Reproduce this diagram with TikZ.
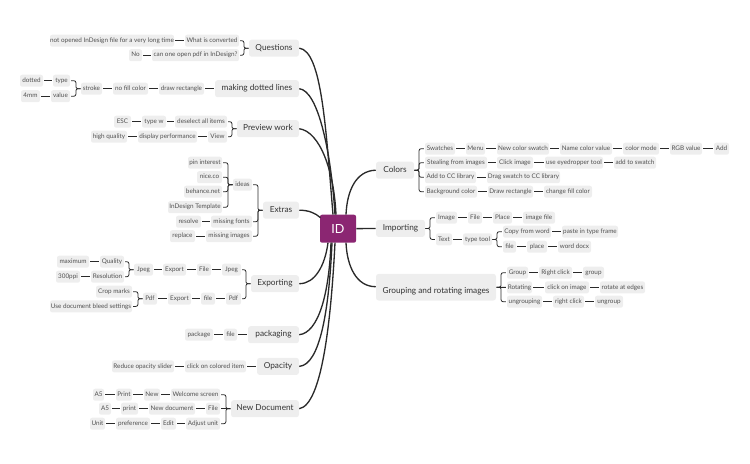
\documentclass[tikz,border=0pt]{standalone}
\usepackage{fontspec}
\setmainfont{Lato}
\definecolor{boxfill}{HTML}{EEEEEE}
\definecolor{lnk}{HTML}{2A2A2A}
\definecolor{txt}{HTML}{505050}
\definecolor{toptxt}{HTML}{333333}
\definecolor{idfill}{HTML}{8B2672}
\tikzset{
 bx/.style={fill=boxfill,rounded corners=1.6pt,inner sep=0pt,text=txt,font=\fontsize{4.75}{6}\selectfont,anchor=center,text height=3.4pt,text depth=1pt},
 tp/.style={fill=boxfill,rounded corners=2pt,inner sep=0pt,text=toptxt,font=\fontsize{6.2}{8}\selectfont,anchor=center,text height=4.6pt,text depth=1.4pt},
 lk/.style={draw=lnk,line width=0.6pt,shorten >=0.6pt,shorten <=0.6pt},
 br/.style={draw=lnk,line width=0.6pt,rounded corners=1.5pt,shorten <=0.6pt},
 mn/.style={draw=lnk,line width=1pt},
}
% name, x1, x2, yc, text
\newcommand{\bxn}[5]{\node[bx,minimum width={(#3-#2)*0.75pt},minimum height=9pt] (#1) at ({(#2+#3)/2},#4) {#5};}
\newcommand{\tpn}[5]{\node[tp,minimum width={(#3-#2)*0.75pt},minimum height=12.8pt] (#1) at ({(#2+#3)/2},#4) {#5};}
% left-hand bracket child -> parent
\newcommand{\bl}[2]{\draw[br] (#1.east) -| ([xshift=-3.6pt]#2.west) -- (#2.west);}
\newcommand{\brr}[2]{\draw[br] (#1.west) -| ([xshift=3.6pt]#2.east) -- (#2.east);}
\begin{document}
\begin{tikzpicture}[x=0.75pt,y=-0.75pt]
\useasboundingbox (0,-0.7) rectangle (750,463.3);
% main curves
\tpn{q}{249}{299}{47.5}{Questions}
\tpn{mdl}{215}{299}{88}{making dotted lines}
\tpn{pw}{237}{299}{128}{Preview work}
\tpn{ex}{263}{299}{209.5}{Extras}
\tpn{xp}{251}{299}{283}{Exporting}
\tpn{pk}{248}{299}{334}{packaging}
\tpn{op}{257}{299}{365.7}{Opacity}
\tpn{nd}{231}{299}{408}{New Document}
\tpn{co}{376}{414}{169.5}{Colors}
\tpn{im}{376}{425}{227.7}{Importing}
\node[tp,minimum width=90pt,minimum height=20pt] (gr) at (436,286.5) {\raisebox{-3.2pt}{Grouping and rotating images}};
\node[fill=idfill,rounded corners=1.5pt,minimum width=27pt,minimum height=21pt,inner sep=0pt,text=white,font=\fontsize{9.4}{11}\selectfont] (id) at (338,228) {ID};
\coordinate (qe) at (333,214); \coordinate (me) at (335,214); \coordinate (pe) at (336,214);
\coordinate (ee) at (320.5,217);
\coordinate (xe) at (328,242); \coordinate (ke) at (331,242); \coordinate (oe) at (332,242); \coordinate (ne) at (335,242);
\coordinate (ce) at (346,214); \coordinate (ge) at (346,242);
\draw[mn] (q.east) .. controls (322,50) and (326,130) .. (qe);
\draw[mn] (mdl.east) .. controls (318,90) and (331,150) .. (me);
\draw[mn] (pw.east) .. controls (320,131) and (334,170) .. (pe);
\draw[mn] (ex.east) .. controls (308,209.5) and (315,212) .. (ee);
\draw[mn] (xp.east) .. controls (315,283) and (325,265) .. (xe);
\draw[mn] (pk.east) .. controls (318,332) and (329,295) .. (ke);
\draw[mn] (op.east) .. controls (320,364) and (329,310) .. (oe);
\draw[mn] (nd.east) .. controls (322,404) and (331,320) .. (ne);
\draw[mn] (co.west) .. controls (356,170) and (347,190) .. (ce);
\draw[mn] (gr.west |- 0,286) .. controls (356,286) and (347,265) .. (ge);
\draw[mn] (id) -- (im);
% Questions
\bxn{a1}{50}{174}{40}{not opened InDesign file for a very long time}
\bxn{a2}{185}{239}{40}{What is converted}
\bxn{a3}{129}{142}{54.5}{No}
\bxn{a4}{152}{239}{54.5}{can one open pdf in InDesign?}
\draw[lk] (a1)--(a2); \draw[lk] (a3)--(a4); \bl{a2}{q} \bl{a4}{q}
% dotted
\bxn{b1}{159}{204}{88}{draw rectangle}
\bxn{b2}{113}{148}{88}{no fill color}
\bxn{b3}{81}{102}{88}{stroke}
\bxn{b4}{53}{70}{80}{type}
\bxn{b5}{20}{43}{80}{dotted}
\bxn{b6}{51}{70}{95.5}{value}
\bxn{b7}{21}{40}{95.5}{4mm}
\draw[lk] (b1)--(mdl); \draw[lk] (b2)--(b1); \draw[lk] (b3)--(b2); \draw[lk] (b5)--(b4); \draw[lk] (b7)--(b6); \bl{b4}{b3} \bl{b6}{b3}
% preview
\bxn{c1}{175}{227}{121}{deselect all items}
\bxn{c2}{142}{166}{121}{type w}
\bxn{c3}{114}{131}{121}{ESC}
\bxn{c4}{208}{227}{136}{View}
\bxn{c5}{138}{197}{136}{display performance}
\bxn{c6}{91}{127}{136}{high quality}
\draw[lk] (c3)--(c2); \draw[lk] (c2)--(c1); \draw[lk] (c6)--(c5); \draw[lk] (c5)--(c4); \bl{c1}{pw} \bl{c4}{pw}
% extras
\bxn{d1}{188}{222}{162}{pin interest}
\bxn{d2}{197}{222}{176.5}{nice.co}
\bxn{d3}{184}{222}{191}{behance.net}
\bxn{d4}{168}{222}{206.5}{InDesign Template}
\bxn{d5}{233}{252}{184}{ideas}
\bxn{d6}{211}{252}{221}{missing fonts}
\bxn{d7}{176}{201}{221}{resolve}
\bxn{d8}{206}{252}{235.5}{missing images}
\bxn{d9}{170}{195}{235.5}{replace}
\bl{d1}{d5} \bl{d2}{d5} \bl{d3}{d5} \bl{d4}{d5}
\bl{d5}{ex} \bl{d6}{ex} \bl{d8}{ex}
\draw[lk] (d7)--(d6); \draw[lk] (d9)--(d8);
% exporting
\bxn{e1}{222}{241}{269}{Jpeg}
\bxn{e2}{197}{211}{269}{File}
\bxn{e3}{163}{186}{269}{Export}
\bxn{e4}{134}{153}{269}{Jpeg}
\bxn{e5}{100}{124}{261}{Quality}
\bxn{e6}{57}{89}{261}{maximum}
\bxn{e7}{91}{124}{276}{Resolution}
\bxn{e8}{56}{80}{276}{300ppi}
\bxn{f1}{226}{241}{298}{Pdf}
\bxn{f2}{201}{215}{298}{file}
\bxn{f3}{168}{191}{298}{Export}
\bxn{f4}{143}{157}{298}{Pdf}
\bxn{f5}{96}{132}{291}{Crop marks}
\bxn{f6}{50}{132}{305.7}{Use document bleed settings}
\bl{e1}{xp} \bl{f1}{xp}
\draw[lk] (e4)--(e3); \draw[lk] (e3)--(e2); \draw[lk] (e2)--(e1);
\draw[lk] (e6)--(e5); \draw[lk] (e8)--(e7); \bl{e5}{e4} \bl{e7}{e4}
\draw[lk] (f4)--(f3); \draw[lk] (f3)--(f2); \draw[lk] (f2)--(f1);
\bl{f5}{f4} \bl{f6}{f4}
% packaging
\bxn{g1}{224}{237}{334}{file}
\bxn{g2}{185}{213}{334}{package}
\draw[lk] (g2)--(g1); \draw[lk] (g1)--(pk);
% opacity
\bxn{h1}{185}{246}{365.7}{click on colored item}
\bxn{h2}{112}{174}{365.7}{Reduce opacity slider}
\draw[lk] (h2)--(h1); \draw[lk] (h1)--(op);
% new doc
\bxn{i1}{171}{220}{394}{Welcome screen}
\bxn{i2}{144}{160}{394}{New}
\bxn{i3}{116}{132}{394}{Print}
\bxn{i4}{93}{104}{394}{A5}
\bxn{j1}{206}{220}{408}{File}
\bxn{j2}{149}{195}{408}{New document}
\bxn{j3}{121}{138}{408}{print}
\bxn{j4}{99}{111}{408}{A5}
\bxn{k1}{186}{220}{423}{Adjust unit}
\bxn{k2}{161}{176}{423}{Edit}
\bxn{k3}{116}{150}{423}{preference}
\bxn{k4}{90}{105}{423}{Unit}
\draw[lk] (i4)--(i3); \draw[lk] (i3)--(i2); \draw[lk] (i2)--(i1);
\draw[lk] (j4)--(j3); \draw[lk] (j3)--(j2); \draw[lk] (j2)--(j1);
\draw[lk] (k4)--(k3); \draw[lk] (k3)--(k2); \draw[lk] (k2)--(k1);
\bl{i1}{nd} \draw[lk] (j1)--(nd); \bl{k1}{nd}
% colors
\bxn{l1}{425}{455}{148}{Swatches}
\bxn{l2}{466}{485}{148}{Menu}
\bxn{l3}{497}{549}{148}{New color swatch}
\bxn{l4}{560}{612}{148}{Name color value}
\bxn{l5}{623}{659}{148}{color mode}
\bxn{l6}{670}{702}{148}{RGB value}
\bxn{l7}{714}{729}{148}{Add}
\bxn{m1}{425}{487}{162}{Stealing from images}
\bxn{m2}{497}{533}{162}{Click image}
\bxn{m3}{545}{603}{162}{use eyedropper tool}
\bxn{m4}{614}{656}{162}{add to swatch}
\bxn{n1}{425}{476}{176.5}{Add to CC library}
\bxn{n2}{487}{560}{176.5}{Drag swatch to CC library}
\bxn{o1}{425}{477}{191}{Background color}
\bxn{o2}{488}{533}{191}{Draw rectangle}
\bxn{o3}{544}{592}{191}{change fill color}
\draw[lk] (l1)--(l2); \draw[lk] (l2)--(l3); \draw[lk] (l3)--(l4); \draw[lk] (l4)--(l5); \draw[lk] (l5)--(l6); \draw[lk] (l6)--(l7);
\draw[lk] (m1)--(m2); \draw[lk] (m2)--(m3); \draw[lk] (m3)--(m4);
\draw[lk] (n1)--(n2);
\draw[lk] (o1)--(o2); \draw[lk] (o2)--(o3);
\brr{l1}{co} \brr{m1}{co} \brr{n1}{co} \brr{o1}{co}
% importing
\bxn{p1}{436}{457}{217}{Image}
\bxn{p2}{468}{482}{217}{File}
\bxn{p3}{493}{512}{217}{Place}
\bxn{p4}{523}{555}{217}{image file}
\bxn{r1}{436}{452}{238.7}{Text}
\bxn{r2}{463}{492}{238.7}{type tool}
\bxn{r3}{503}{551}{231}{Copy from word}
\bxn{r4}{562}{618}{231}{paste in type frame}
\bxn{r5}{503}{516}{246}{file}
\bxn{r6}{527}{547}{246}{place}
\bxn{r7}{558}{591}{246}{word docx}
\draw[lk] (p1)--(p2); \draw[lk] (p2)--(p3); \draw[lk] (p3)--(p4);
\draw[lk] (r1)--(r2); \draw[lk] (r3)--(r4); \draw[lk] (r5)--(r6); \draw[lk] (r6)--(r7);
\brr{p1}{im} \brr{r1}{im} \brr{r3}{r2} \brr{r5}{r2}
% grouping
\bxn{s1}{507}{528}{272}{Group}
\bxn{s2}{539}{572}{272}{Right click}
\bxn{s3}{583}{604}{272}{group}
\bxn{t1}{507}{532}{286.7}{Rotating}
\bxn{t2}{545}{589}{286.7}{click on image}
\bxn{t3}{600}{645}{286.7}{rotate at edges}
\bxn{u1}{507}{542}{301}{ungrouping}
\bxn{u2}{553}{584}{301}{right click}
\bxn{u3}{595}{623}{301}{ungroup}
\draw[lk] (s1)--(s2); \draw[lk] (s2)--(s3);
\draw[lk] (t1)--(t2); \draw[lk] (t2)--(t3);
\draw[lk] (u1)--(u2); \draw[lk] (u2)--(u3);
\brr{s1}{gr} \draw[lk] (t1)--(gr); \brr{u1}{gr}
\end{tikzpicture}
\end{document}
